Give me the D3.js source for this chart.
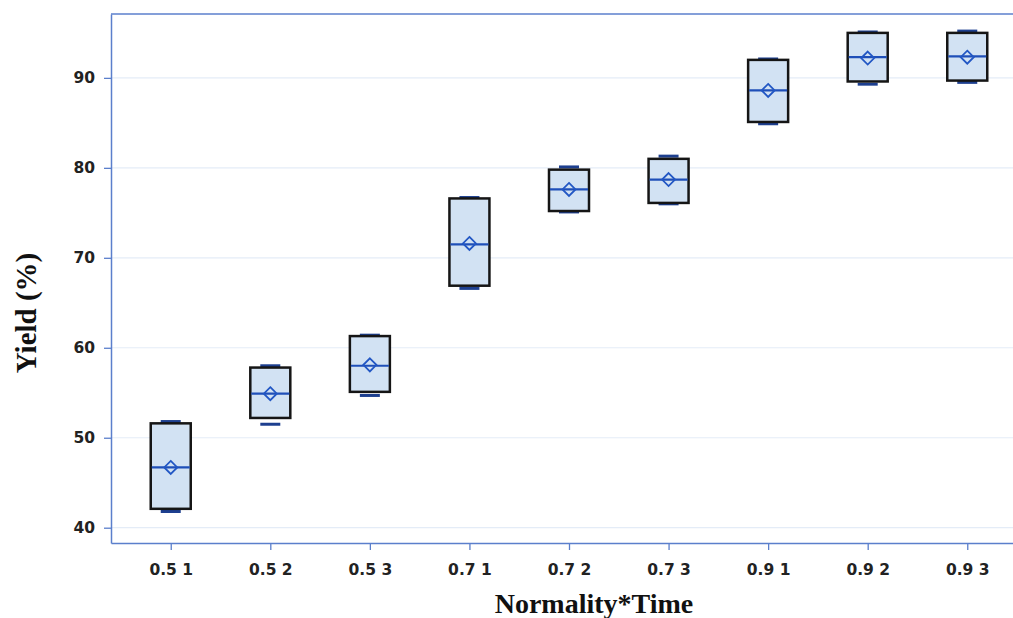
<!DOCTYPE html>
<html>
<head>
<meta charset="utf-8">
<script src="https://cdnjs.cloudflare.com/ajax/libs/d3/7.8.5/d3.min.js"></script>
<style>
  body { margin: 0; background: #fff; }
  svg { display: block; }
</style>
</head>
<body>
<script>
// box plot values
var categories = ["0.5 1", "0.5 2", "0.5 3", "0.7 1", "0.7 2", "0.7 3", "0.9 1", "0.9 2", "0.9 3"]
var mins    = [41.8, 51.5, 54.7, 66.6, 75.1, 76.0, 84.9, 89.3, 89.5]
var q1s     = [42.1, 52.2, 55.1, 66.9, 75.2, 76.1, 85.1, 89.6, 89.7]
var medians = [46.7, 54.9, 58.0, 71.5, 77.6, 78.7, 88.6, 92.3, 92.4]
var means   = [46.7, 54.9, 58.1, 71.6, 77.6, 78.7, 88.6, 92.2, 92.3]
var q3s     = [51.6, 57.8, 61.3, 76.6, 79.8, 81.0, 92.0, 95.0, 95.0]
var maxs    = [51.8, 58.0, 61.4, 76.7, 80.1, 81.3, 92.1, 95.1, 95.2]
var yTicks  = [40, 50, 60, 70, 80, 90]

var width = 1013, height = 618
var margin = {top: 14, left: 111, bottom: 75}
var plotBottom = height - margin.bottom

var svg = d3.select("body")
            .append("svg")
            .attr("width", width)
            .attr("height", height)

var x = d3.scalePoint()
    .domain(categories)
    .range([margin.left, 1027])
    .padding(0.6)

var y = d3.scaleLinear()
    .domain([38.3, 97.1])
    .range([plotBottom, margin.top])

var axisColor = "#5b7fcc"

// gridlines
svg.append("g")
    .selectAll("line")
    .data(yTicks)
    .enter()
    .append("line")
    .attr("x1", margin.left)
    .attr("x2", width)
    .attr("y1", function(d){ return y(d) })
    .attr("y2", function(d){ return y(d) })
    .style("stroke", "#e4ecf7")
    .style("stroke-width", 1.2)

// frame top
svg.append("line")
    .attr("x1", margin.left).attr("x2", width)
    .attr("y1", margin.top).attr("y2", margin.top)
    .style("stroke", axisColor).style("stroke-width", 1.5)

var yAxis = svg.append("g")
    .attr("transform", "translate(" + margin.left + ",0)")
    .call(d3.axisLeft(y).tickValues(yTicks).tickSize(7).tickSizeOuter(0).tickPadding(9))

var xAxis = svg.append("g")
    .attr("transform", "translate(0," + plotBottom + ")")
    .call(d3.axisBottom(x).tickSize(7).tickSizeOuter(0).tickPadding(14))

;[yAxis, xAxis].forEach(function(g){
  g.select(".domain").style("stroke", axisColor).style("stroke-width", 1.5)
  g.selectAll(".tick line").style("stroke", axisColor).style("stroke-width", 1.3)
  g.selectAll("text")
    .style("font-family", "'DejaVu Sans', Verdana, sans-serif")
    .style("font-weight", "bold")
    .style("font-size", "15.5px")
    .style("fill", "#222")
})

var boxW = 40, capW = 20

var boxes = svg.append("g")
    .selectAll("g")
    .data(categories)
    .enter()
    .append("g")

// whisker caps
boxes.append("line")
    .attr("x1", function(d){ return x(d) - capW/2 })
    .attr("x2", function(d){ return x(d) + capW/2 })
    .attr("y1", function(d, i){ return y(maxs[i]) })
    .attr("y2", function(d, i){ return y(maxs[i]) })
    .style("stroke", "#1d3f8f")
    .style("stroke-width", 3)

boxes.append("line")
    .attr("x1", function(d){ return x(d) - capW/2 })
    .attr("x2", function(d){ return x(d) + capW/2 })
    .attr("y1", function(d, i){ return y(mins[i]) })
    .attr("y2", function(d, i){ return y(mins[i]) })
    .style("stroke", "#1d3f8f")
    .style("stroke-width", 3)

boxes.append("rect")
    .attr("x", function(d){ return x(d) - boxW/2 })
    .attr("y", function(d, i){ return y(q3s[i]) })
    .attr("width", boxW)
    .attr("height", function(d, i){ return y(q1s[i]) - y(q3s[i]) })
    .style("fill", "#d2e2f3")
    .style("stroke", "#151515")
    .style("stroke-width", 2.5)

boxes.append("line")
    .attr("x1", function(d){ return x(d) - boxW/2 + 1 })
    .attr("x2", function(d){ return x(d) + boxW/2 - 1 })
    .attr("y1", function(d, i){ return y(medians[i]) })
    .attr("y2", function(d, i){ return y(medians[i]) })
    .style("stroke", "#1f4fb8")
    .style("stroke-width", 2.2)

boxes.append("path")
    .attr("transform", function(d, i){ return "translate(" + x(d) + "," + y(means[i]) + ")" })
    .attr("d", "M0,-6.5L6.5,0L0,6.5L-6.5,0Z")
    .style("fill", "none")
    .style("stroke", "#2257c4")
    .style("stroke-width", 1.8)

// axis titles
svg.append("text")
    .attr("x", 594)
    .attr("y", 613)
    .attr("text-anchor", "middle")
    .style("font-family", "'Liberation Serif', 'Times New Roman', serif")
    .style("font-weight", "bold")
    .style("font-size", "28px")
    .style("fill", "#111")
    .text("Normality*Time")

svg.append("text")
    .attr("transform", "translate(36,313) rotate(-90)")
    .attr("text-anchor", "middle")
    .style("font-family", "'Liberation Serif', 'Times New Roman', serif")
    .style("font-weight", "bold")
    .style("font-size", "29px")
    .style("fill", "#111")
    .text("Yield (%)")
</script>
</body>
</html>
